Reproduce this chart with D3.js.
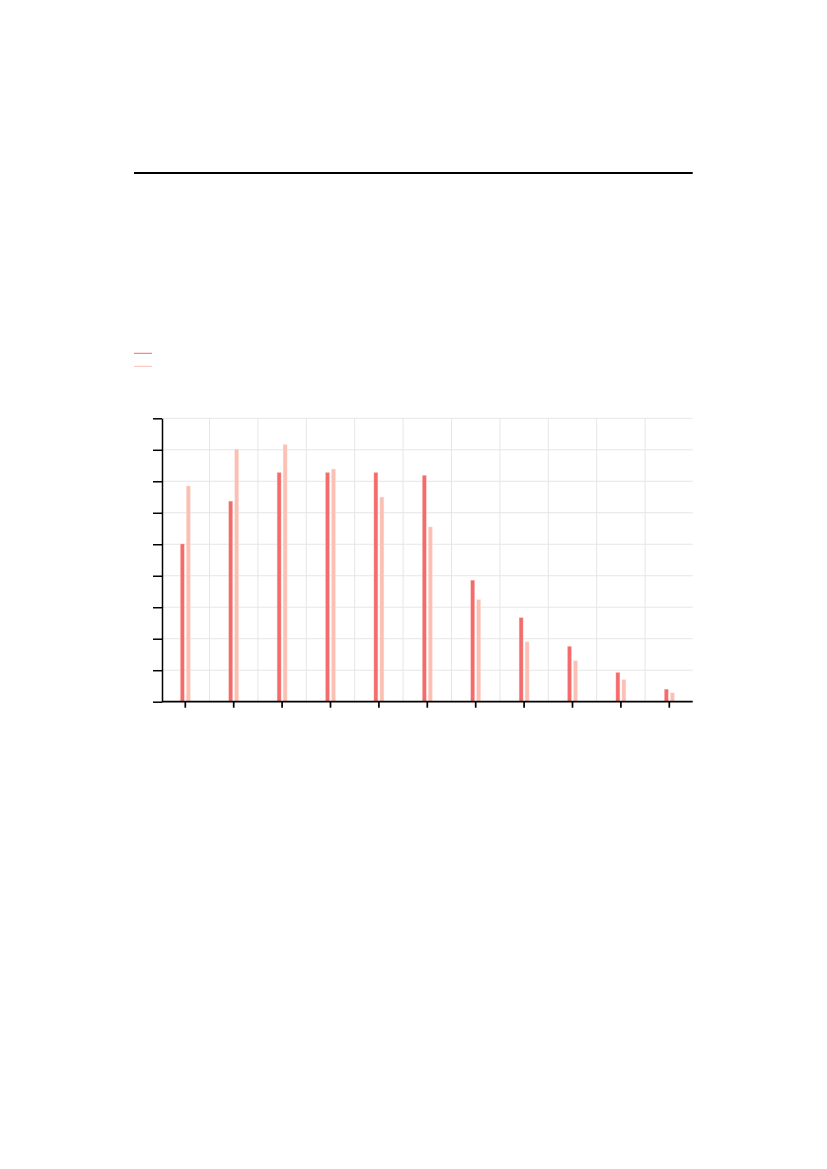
<!DOCTYPE html>
<html>
<head>
<meta charset="utf-8">
<script src="https://cdn.jsdelivr.net/npm/d3@7"></script>
<style>
  html, body { margin: 0; padding: 0; background: #fff; }
  svg { display: block; }
</style>
</head>
<body>
<div id="chart"></div>
<script>
// the reference shows no labels, so categories are just placeholders
const categories = ["c1", "c2", "c3", "c4", "c5", "c6", "c7", "c8", "c9", "c10", "c11"]
const seriesA = [5.01, 6.37, 7.28, 7.28, 7.28, 7.19, 3.86, 2.67, 1.76, 0.93, 0.40]
const seriesB = [6.85, 8.02, 8.17, 7.39, 6.50, 5.55, 3.24, 1.90, 1.30, 0.70, 0.28]
const yTicks = [0, 1, 2, 3, 4, 5, 6, 7, 8, 9]

const width = 827
const height = 1169
const colorA = "#f36b6a"
const colorB = "#fcbfb4"

const svg = d3
  .select("#chart")
  .append("svg")
  .attr("width", width)
  .attr("height", height)
  .attr("viewBox", [0, 0, width, height])

const x = d3.scaleBand().domain(categories).range([161.1, 693.5])
const y = d3.scaleLinear().domain([0, 9]).range([701.7, 418.3])

const left = 162
const right = 692.7

// top rule
svg
  .append("line")
  .attr("x1", 134)
  .attr("x2", right)
  .attr("y1", 173)
  .attr("y2", 173)
  .attr("stroke", "#000")
  .attr("stroke-width", 1.8)

// legend keys (no text)
const legend = svg.append("g")
;[colorA, colorB].forEach((c, i) => {
  legend
    .append("line")
    .attr("x1", 134)
    .attr("x2", 152)
    .attr("y1", 353.3 + i * 13)
    .attr("y2", 353.3 + i * 13)
    .attr("stroke", c)
    .attr("stroke-width", 1)
})

// grid
const grid = svg.append("g").attr("stroke", "#e6e6e6").attr("stroke-width", 1)
grid
  .selectAll(".hgrid")
  .data(yTicks.slice(1))
  .join("line")
  .attr("x1", left)
  .attr("x2", right)
  .attr("y1", d => y(d))
  .attr("y2", d => y(d))
grid
  .selectAll(".vgrid")
  .data(categories.slice(1))
  .join("line")
  .attr("x1", d => x(d))
  .attr("x2", d => x(d))
  .attr("y1", y(9))
  .attr("y2", y(0))

// bars
const barW = 4
const bars = svg.append("g")
bars
  .selectAll(".barA")
  .data(categories)
  .join("rect")
  .attr("x", (d, i) => x(d) + x.bandwidth() / 2 - 1 - barW)
  .attr("y", (d, i) => y(seriesA[i]))
  .attr("width", barW)
  .attr("height", (d, i) => y(0) - y(seriesA[i]))
  .attr("fill", colorA)
  .attr("stroke", "#fbd0cc")
  .attr("stroke-width", 0.4)
bars
  .selectAll(".barB")
  .data(categories)
  .join("rect")
  .attr("x", (d, i) => x(d) + x.bandwidth() / 2 + 1)
  .attr("y", (d, i) => y(seriesB[i]))
  .attr("width", barW)
  .attr("height", (d, i) => y(0) - y(seriesB[i]))
  .attr("fill", colorB)
  .attr("stroke", "#fde3de")
  .attr("stroke-width", 0.4)

// axes
const xAxis = d3.axisBottom(x).tickSize(6).tickSizeOuter(0).tickFormat("")
const yAxis = d3.axisLeft(y).tickValues(yTicks).tickSize(9).tickSizeOuter(0).tickFormat("")

svg
  .append("g")
  .attr("transform", `translate(0,${y(0)})`)
  .call(xAxis)
  .call(g => g.select(".domain").attr("d", `M${left},0H${right}`))
  .call(g => g.selectAll("path, line").attr("stroke", "#000").attr("stroke-width", 1.7))

svg
  .append("g")
  .attr("transform", `translate(${left},0)`)
  .call(yAxis)
  .call(g => g.selectAll("path, line").attr("stroke", "#000").attr("stroke-width", 1.5))
</script>
</body>
</html>
